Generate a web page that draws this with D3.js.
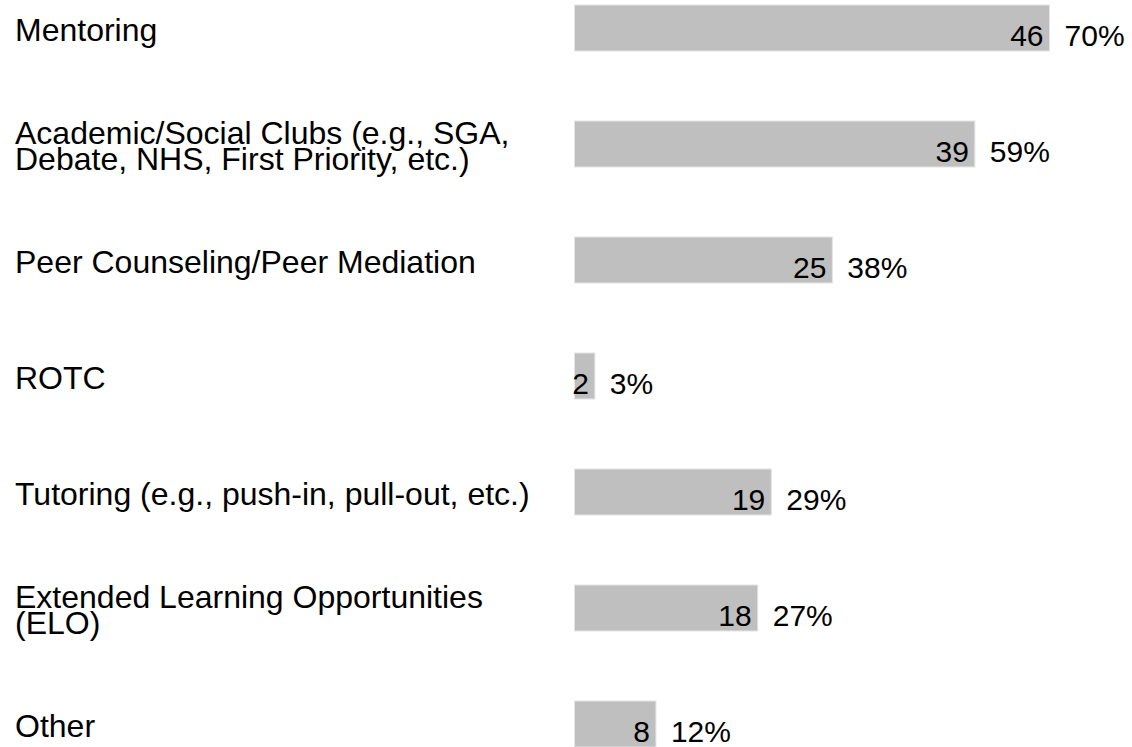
<!DOCTYPE html>
<html>
<head>
<meta charset="utf-8">
<script src="https://cdn.jsdelivr.net/npm/d3@7"></script>
<style>
  html, body { margin: 0; padding: 0; background: #ffffff; }
  svg { display: block; }
  text { font-family: "Liberation Sans", Arial, sans-serif; fill: #000; }
</style>
</head>
<body>
<svg id="chart" width="1132" height="747"></svg>
<script>
const categories = [
  ["Mentoring"],
  ["Academic/Social Clubs (e.g., SGA,", "Debate, NHS, First Priority, etc.)"],
  ["Peer Counseling/Peer Mediation"],
  ["ROTC"],
  ["Tutoring (e.g., push-in, pull-out, etc.)"],
  ["Extended Learning Opportunities", "(ELO)"],
  ["Other"]
];
const counts = [46, 39, 25, 2, 19, 18, 8];
const percents = [70, 59, 38, 3, 29, 27, 12];

const data = categories.map((c, i) => ({ id: i, label: c, count: counts[i], pct: percents[i] }));

const svg = d3.select("#chart");

const x = d3.scaleLinear().domain([0, 100]).range([574.5, 574.5 + 678.6]);
const y = d3.scaleBand()
  .domain(data.map(d => d.id))
  .range([-30, -30 + 7 * 116])
  .paddingInner(0.6034)
  .paddingOuter(0.3017);

const rows = svg.selectAll("g.row").data(data).join("g").attr("class", "row");

rows.append("rect")
  .attr("x", x(0))
  .attr("y", d => y(d.id))
  .attr("width", d => x(d.pct) - x(0))
  .attr("height", y.bandwidth())
  .attr("fill", "#bfbfbf")
  .attr("stroke", "#e4e4e4")
  .attr("stroke-width", 1);

rows.append("text")
  .attr("x", d => x(d.pct) - 6)
  .attr("y", d => y(d.id) + y.bandwidth() / 2 + 17.5)
  .attr("text-anchor", "end")
  .style("font-size", "30px")
  .text(d => d.count);

rows.append("text")
  .attr("x", d => x(d.pct) + 15)
  .attr("y", d => y(d.id) + y.bandwidth() / 2 + 17.5)
  .attr("text-anchor", "start")
  .style("font-size", "30px")
  .text(d => d.pct + "%");

const lbl = rows.append("text")
  .attr("x", 15)
  .style("font-size", "32px");
lbl.each(function(d) {
  const c = y(d.id) + y.bandwidth() / 2;
  const n = d.label.length;
  d3.select(this).selectAll("tspan").data(d.label).join("tspan")
    .attr("x", 15)
    .attr("y", (t, i) => c + 12.5 + (i - (n - 1) / 2) * 26)
    .text(t => t);
});
</script>
</body>
</html>
